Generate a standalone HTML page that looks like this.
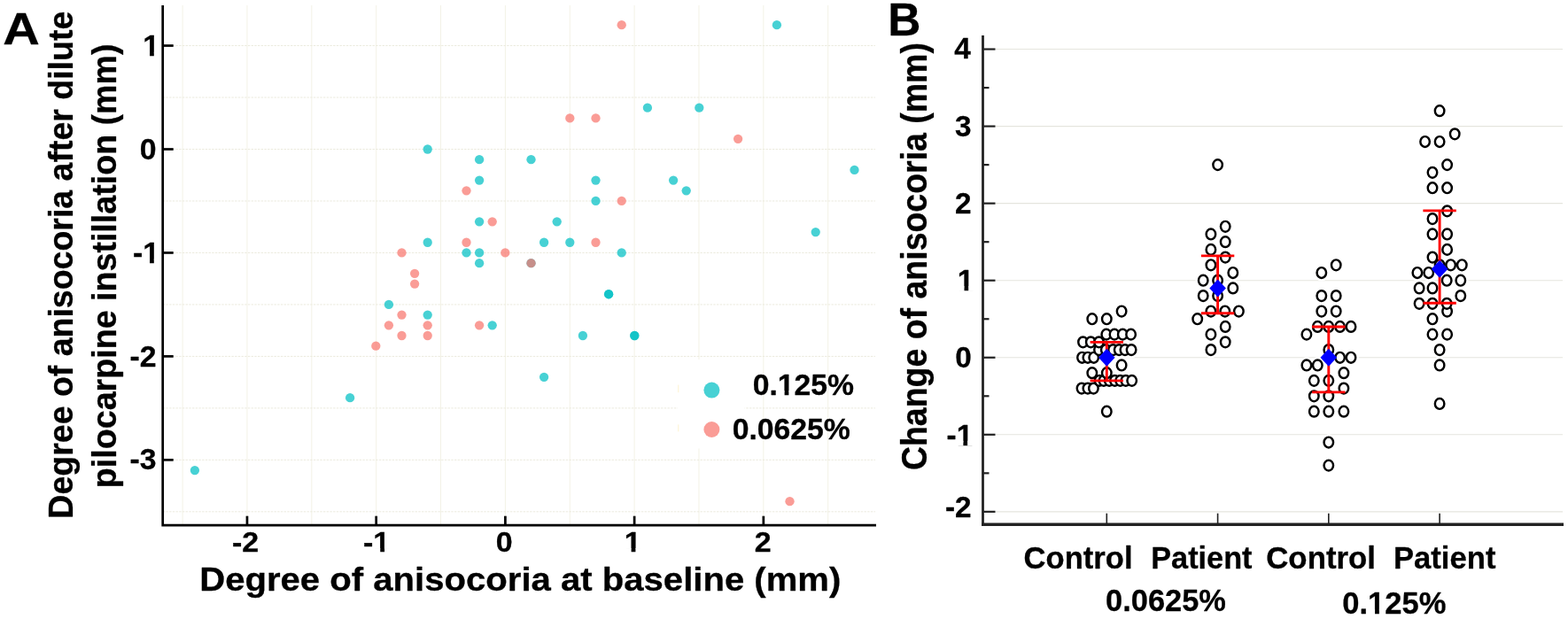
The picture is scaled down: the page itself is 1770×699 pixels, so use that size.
<!DOCTYPE html>
<html lang="en">
<head>
<meta charset="utf-8">
<title>Anisocoria after dilute pilocarpine instillation</title>
<style>
html,body{margin:0;padding:0;background:#fff;}
body{width:1770px;height:699px;overflow:hidden;}
svg{display:block;}
svg text{font-family:'Liberation Sans', Arial, Helvetica, sans-serif;font-weight:bold;}
</style>
</head>
<body>
<svg width="1770" height="699" viewBox="0 0 1770 699">
<rect width="1770" height="699" fill="#fff"/>
<g id="panelA">
<g stroke="#f3f2e6" stroke-width="1" fill="none">
<line x1="206.1" y1="6" x2="206.1" y2="593.2"/>
<line x1="278.96" y1="6" x2="278.96" y2="593.2"/>
<line x1="351.82" y1="6" x2="351.82" y2="593.2"/>
<line x1="424.68" y1="6" x2="424.68" y2="593.2"/>
<line x1="497.54" y1="6" x2="497.54" y2="593.2"/>
<line x1="570.4" y1="6" x2="570.4" y2="593.2"/>
<line x1="643.26" y1="6" x2="643.26" y2="593.2"/>
<line x1="716.12" y1="6" x2="716.12" y2="593.2"/>
<line x1="788.98" y1="6" x2="788.98" y2="593.2"/>
<line x1="861.84" y1="6" x2="861.84" y2="593.2"/>
<line x1="934.7" y1="6" x2="934.7" y2="593.2"/>
</g>
<g stroke="#ebeadd" stroke-width="1" fill="none" stroke-dasharray="2.4 1.3">
<line x1="183.7" y1="577.83" x2="988" y2="577.83"/>
<line x1="183.7" y1="519.35" x2="988" y2="519.35"/>
<line x1="183.7" y1="460.88" x2="988" y2="460.88"/>
<line x1="183.7" y1="402.4" x2="988" y2="402.4"/>
<line x1="183.7" y1="343.93" x2="988" y2="343.93"/>
<line x1="183.7" y1="285.45" x2="988" y2="285.45"/>
<line x1="183.7" y1="226.97" x2="988" y2="226.97"/>
<line x1="183.7" y1="168.5" x2="988" y2="168.5"/>
<line x1="183.7" y1="110.03" x2="988" y2="110.03"/>
<line x1="183.7" y1="51.55" x2="988" y2="51.55"/>
</g>
<rect x="765" y="406" width="75.5" height="100.5" fill="#fff"/>
<rect x="765.3" y="434.6" width="1" height="8.6" fill="#fdf3cf"/>
<rect x="765.3" y="479.4" width="1" height="8" fill="#fdf3cf"/>
<g fill="#00BFC4" fill-opacity="0.72">
<circle cx="482.7" cy="168.5" r="5.15"/>
<circle cx="541.1" cy="180.19" r="5.15"/>
<circle cx="599.5" cy="180.19" r="5.15"/>
<circle cx="541.1" cy="203.59" r="5.15"/>
<circle cx="672.5" cy="203.59" r="5.15"/>
<circle cx="760.1" cy="203.59" r="5.15"/>
<circle cx="774.7" cy="215.28" r="5.15"/>
<circle cx="672.5" cy="226.97" r="5.15"/>
<circle cx="541.1" cy="250.37" r="5.15"/>
<circle cx="628.7" cy="250.37" r="5.15"/>
<circle cx="482.7" cy="273.75" r="5.15"/>
<circle cx="614.1" cy="273.75" r="5.15"/>
<circle cx="643.3" cy="273.75" r="5.15"/>
<circle cx="526.5" cy="285.45" r="5.15"/>
<circle cx="541.1" cy="285.45" r="5.15"/>
<circle cx="701.7" cy="285.45" r="5.15"/>
<circle cx="541.1" cy="297.14" r="5.15"/>
<circle cx="599.5" cy="297.14" r="5.15"/>
<circle cx="438.9" cy="343.93" r="5.15"/>
<circle cx="482.7" cy="355.62" r="5.15"/>
<circle cx="555.7" cy="367.31" r="5.15"/>
<circle cx="657.9" cy="379.01" r="5.15"/>
<circle cx="716.3" cy="379.01" r="5.15"/>
<circle cx="716.3" cy="379.01" r="5.15"/>
<circle cx="687.1" cy="332.23" r="5.15"/>
<circle cx="687.1" cy="332.23" r="5.15"/>
<circle cx="614.1" cy="425.79" r="5.15"/>
<circle cx="395.1" cy="449.18" r="5.15"/>
<circle cx="219.9" cy="531.05" r="5.15"/>
<circle cx="730.9" cy="121.72" r="5.15"/>
<circle cx="789.3" cy="121.72" r="5.15"/>
<circle cx="876.9" cy="28.16" r="5.15"/>
<circle cx="964.5" cy="191.89" r="5.15"/>
<circle cx="920.7" cy="262.06" r="5.15"/>
<circle cx="803.4" cy="440.6" r="9"/>
</g>
<g fill="#F8766D" fill-opacity="0.72">
<circle cx="701.7" cy="28.16" r="5.15"/>
<circle cx="643.3" cy="133.41" r="5.15"/>
<circle cx="672.5" cy="133.41" r="5.15"/>
<circle cx="833.1" cy="156.81" r="5.15"/>
<circle cx="526.5" cy="215.28" r="5.15"/>
<circle cx="701.7" cy="226.97" r="5.15"/>
<circle cx="555.7" cy="250.37" r="5.15"/>
<circle cx="526.5" cy="273.75" r="5.15"/>
<circle cx="672.5" cy="273.75" r="5.15"/>
<circle cx="453.5" cy="285.45" r="5.15"/>
<circle cx="570.3" cy="285.45" r="5.15"/>
<circle cx="599.5" cy="297.14" r="5.15"/>
<circle cx="468.1" cy="308.84" r="5.15"/>
<circle cx="468.1" cy="320.53" r="5.15"/>
<circle cx="453.5" cy="355.62" r="5.15"/>
<circle cx="438.9" cy="367.31" r="5.15"/>
<circle cx="482.7" cy="367.31" r="5.15"/>
<circle cx="541.1" cy="367.31" r="5.15"/>
<circle cx="453.5" cy="379.01" r="5.15"/>
<circle cx="482.7" cy="379.01" r="5.15"/>
<circle cx="424.3" cy="390.7" r="5.15"/>
<circle cx="891.5" cy="566.13" r="5.15"/>
<circle cx="803.4" cy="485" r="9"/>
</g>
<g stroke="#000" stroke-width="2.7" fill="none">
<path d="M183.7 6V593.2H989" stroke-linejoin="miter"/>
<line x1="183.7" y1="51.55" x2="195.7" y2="51.55"/>
<line x1="183.7" y1="168.5" x2="195.7" y2="168.5"/>
<line x1="183.7" y1="285.45" x2="195.7" y2="285.45"/>
<line x1="183.7" y1="402.4" x2="195.7" y2="402.4"/>
<line x1="183.7" y1="519.35" x2="195.7" y2="519.35"/>
<line x1="278.96" y1="593.2" x2="278.96" y2="582.7"/>
<line x1="424.68" y1="593.2" x2="424.68" y2="582.7"/>
<line x1="570.4" y1="593.2" x2="570.4" y2="582.7"/>
<line x1="716.12" y1="593.2" x2="716.12" y2="582.7"/>
<line x1="861.84" y1="593.2" x2="861.84" y2="582.7"/>
</g>
<g transform="translate(161.19 63.45) scale(0.3380 0.3240)"><text stroke="#000" stroke-width="0.91" stroke-linejoin="round" font-size="100">1</text><rect x="3" y="-14" width="20.2" height="17" fill="#fff"/><rect x="37.3" y="-14" width="18.7" height="17" fill="#fff"/></g>
<g transform="translate(157.76 180.1) scale(0.3380 0.3240)"><text stroke="#000" stroke-width="0.91" stroke-linejoin="round" font-size="100">0</text></g>
<g transform="translate(149.94 297.05) scale(0.3380 0.3240)"><text stroke="#000" stroke-width="0.91" stroke-linejoin="round" font-size="100">-1</text><rect x="36.3" y="-14" width="20.2" height="17" fill="#fff"/><rect x="70.6" y="-14" width="18.7" height="17" fill="#fff"/></g>
<g transform="translate(146.47 414) scale(0.3380 0.3240)"><text stroke="#000" stroke-width="0.91" stroke-linejoin="round" font-size="100">-2</text></g>
<g transform="translate(146.57 530.35) scale(0.3380 0.3240)"><text stroke="#000" stroke-width="0.91" stroke-linejoin="round" font-size="100">-3</text></g>
<g transform="translate(262.02 623.4) scale(0.3400 0.3120)"><text stroke="#000" stroke-width="0.92" stroke-linejoin="round" font-size="100">-2</text></g>
<g transform="translate(410.05 623.4) scale(0.3400 0.3120)"><text stroke="#000" stroke-width="0.92" stroke-linejoin="round" font-size="100">-1</text><rect x="36.3" y="-14" width="20.2" height="17" fill="#fff"/><rect x="70.6" y="-14" width="18.7" height="17" fill="#fff"/></g>
<g transform="translate(559.65 623.4) scale(0.3400 0.3120)"><text stroke="#000" stroke-width="0.92" stroke-linejoin="round" font-size="100">0</text></g>
<g transform="translate(704.72 623.4) scale(0.3400 0.3120)"><text stroke="#000" stroke-width="0.92" stroke-linejoin="round" font-size="100">1</text><rect x="3" y="-14" width="20.2" height="17" fill="#fff"/><rect x="37.3" y="-14" width="18.7" height="17" fill="#fff"/></g>
<g transform="translate(851.65 623.4) scale(0.3400 0.3120)"><text stroke="#000" stroke-width="0.92" stroke-linejoin="round" font-size="100">2</text></g>
<text stroke="#000" stroke-width="0.56" stroke-linejoin="round" transform="translate(3.27 50.4) scale(0.5758 0.5043)" font-size="100" fill="#000">A</text>
<text stroke="#000" stroke-width="0.78" stroke-linejoin="round" transform="translate(82.4 585.63) rotate(-90) scale(0.3750 0.3959)" font-size="100" fill="#000">Degree of anisocoria after dilute</text>
<text stroke="#000" stroke-width="0.78" stroke-linejoin="round" transform="translate(131 551.13) rotate(-90) scale(0.3763 0.3973)" font-size="100" fill="#000">pilocarpine instillation (mm)</text>
<text stroke="#000" stroke-width="0.78" stroke-linejoin="round" transform="translate(225.19 667) scale(0.4011 0.3652)" font-size="100" fill="#000">Degree of anisocoria at baseline (mm)</text>
<g transform="translate(849.65 446) scale(0.3373 0.3357)"><text stroke="#000" stroke-width="0.89" stroke-linejoin="round" font-size="100" fill="#000">0.125%</text><rect x="86.4" y="-14" width="20.2" height="17" fill="#fff"/><rect x="120.7" y="-14" width="18.7" height="17" fill="#fff"/></g>
<text stroke="#000" stroke-width="0.90" stroke-linejoin="round" transform="translate(826.65 496) scale(0.3376 0.3286)" font-size="100" fill="#000">0.0625%</text>
</g>
<g id="panelB">
<g stroke="#e5e5de" stroke-width="1.1" fill="none">
<line x1="1123.5" y1="55.55" x2="1764" y2="55.55"/>
<line x1="1123.5" y1="142.6" x2="1764" y2="142.6"/>
<line x1="1123.5" y1="229.65" x2="1764" y2="229.65"/>
<line x1="1123.5" y1="316.7" x2="1764" y2="316.7"/>
<line x1="1123.5" y1="403.75" x2="1764" y2="403.75"/>
<line x1="1123.5" y1="490.8" x2="1764" y2="490.8"/>
<line x1="1123.5" y1="577.85" x2="1764" y2="577.85"/>
</g>
<g fill="#fff" stroke="#fff" stroke-width="7">
<ellipse cx="1249.3" cy="464.69" rx="5.25" ry="5.9"/>
<ellipse cx="1221" cy="438.57" rx="5.25" ry="5.9"/>
<ellipse cx="1227.9" cy="438.57" rx="5.25" ry="5.9"/>
<ellipse cx="1234.4" cy="438.57" rx="5.25" ry="5.9"/>
<ellipse cx="1241" cy="429.87" rx="5.25" ry="5.9"/>
<ellipse cx="1245.9" cy="429.87" rx="5.25" ry="5.9"/>
<ellipse cx="1252.2" cy="429.87" rx="5.25" ry="5.9"/>
<ellipse cx="1258.4" cy="429.87" rx="5.25" ry="5.9"/>
<ellipse cx="1264.6" cy="429.87" rx="5.25" ry="5.9"/>
<ellipse cx="1270.8" cy="429.87" rx="5.25" ry="5.9"/>
<ellipse cx="1277.7" cy="429.87" rx="5.25" ry="5.9"/>
<ellipse cx="1232.8" cy="421.16" rx="5.25" ry="5.9"/>
<ellipse cx="1249.3" cy="421.16" rx="5.25" ry="5.9"/>
<ellipse cx="1266.1" cy="412.45" rx="5.25" ry="5.9"/>
<ellipse cx="1221.5" cy="403.75" rx="5.25" ry="5.9"/>
<ellipse cx="1227.9" cy="403.75" rx="5.25" ry="5.9"/>
<ellipse cx="1234.7" cy="403.75" rx="5.25" ry="5.9"/>
<ellipse cx="1240.5" cy="395.05" rx="5.25" ry="5.9"/>
<ellipse cx="1248.3" cy="395.05" rx="5.25" ry="5.9"/>
<ellipse cx="1256.5" cy="395.05" rx="5.25" ry="5.9"/>
<ellipse cx="1263.2" cy="395.05" rx="5.25" ry="5.9"/>
<ellipse cx="1269.9" cy="395.05" rx="5.25" ry="5.9"/>
<ellipse cx="1277.1" cy="395.05" rx="5.25" ry="5.9"/>
<ellipse cx="1222.5" cy="386.34" rx="5.25" ry="5.9"/>
<ellipse cx="1231.3" cy="386.34" rx="5.25" ry="5.9"/>
<ellipse cx="1240.5" cy="386.34" rx="5.25" ry="5.9"/>
<ellipse cx="1248.8" cy="377.63" rx="5.25" ry="5.9"/>
<ellipse cx="1258" cy="377.63" rx="5.25" ry="5.9"/>
<ellipse cx="1267.3" cy="377.63" rx="5.25" ry="5.9"/>
<ellipse cx="1276.6" cy="377.63" rx="5.25" ry="5.9"/>
<ellipse cx="1232.8" cy="360.23" rx="5.25" ry="5.9"/>
<ellipse cx="1249.3" cy="360.23" rx="5.25" ry="5.9"/>
<ellipse cx="1266.1" cy="351.52" rx="5.25" ry="5.9"/>
<ellipse cx="1366.9" cy="395.05" rx="5.25" ry="5.9"/>
<ellipse cx="1383.2" cy="386.34" rx="5.25" ry="5.9"/>
<ellipse cx="1366.9" cy="377.63" rx="5.25" ry="5.9"/>
<ellipse cx="1383.2" cy="368.93" rx="5.25" ry="5.9"/>
<ellipse cx="1351.7" cy="360.23" rx="5.25" ry="5.9"/>
<ellipse cx="1366.9" cy="351.52" rx="5.25" ry="5.9"/>
<ellipse cx="1382.8" cy="351.52" rx="5.25" ry="5.9"/>
<ellipse cx="1398.4" cy="351.52" rx="5.25" ry="5.9"/>
<ellipse cx="1358.2" cy="334.11" rx="5.25" ry="5.9"/>
<ellipse cx="1374.6" cy="334.11" rx="5.25" ry="5.9"/>
<ellipse cx="1391.8" cy="325.4" rx="5.25" ry="5.9"/>
<ellipse cx="1358.2" cy="316.7" rx="5.25" ry="5.9"/>
<ellipse cx="1374.6" cy="316.7" rx="5.25" ry="5.9"/>
<ellipse cx="1391.8" cy="308" rx="5.25" ry="5.9"/>
<ellipse cx="1366.9" cy="299.29" rx="5.25" ry="5.9"/>
<ellipse cx="1383.2" cy="290.58" rx="5.25" ry="5.9"/>
<ellipse cx="1366.9" cy="281.88" rx="5.25" ry="5.9"/>
<ellipse cx="1383.2" cy="273.18" rx="5.25" ry="5.9"/>
<ellipse cx="1366.9" cy="264.47" rx="5.25" ry="5.9"/>
<ellipse cx="1383.2" cy="255.77" rx="5.25" ry="5.9"/>
<ellipse cx="1374.6" cy="186.12" rx="5.25" ry="5.9"/>
<ellipse cx="1499.8" cy="525.62" rx="5.25" ry="5.9"/>
<ellipse cx="1499.8" cy="499.5" rx="5.25" ry="5.9"/>
<ellipse cx="1483.3" cy="464.69" rx="5.25" ry="5.9"/>
<ellipse cx="1499.8" cy="464.69" rx="5.25" ry="5.9"/>
<ellipse cx="1516.9" cy="464.69" rx="5.25" ry="5.9"/>
<ellipse cx="1483.3" cy="447.27" rx="5.25" ry="5.9"/>
<ellipse cx="1499.8" cy="447.27" rx="5.25" ry="5.9"/>
<ellipse cx="1516.9" cy="438.57" rx="5.25" ry="5.9"/>
<ellipse cx="1483.3" cy="429.87" rx="5.25" ry="5.9"/>
<ellipse cx="1499.8" cy="429.87" rx="5.25" ry="5.9"/>
<ellipse cx="1516.9" cy="421.16" rx="5.25" ry="5.9"/>
<ellipse cx="1474.9" cy="412.45" rx="5.25" ry="5.9"/>
<ellipse cx="1487.3" cy="412.45" rx="5.25" ry="5.9"/>
<ellipse cx="1512.6" cy="403.75" rx="5.25" ry="5.9"/>
<ellipse cx="1525" cy="403.75" rx="5.25" ry="5.9"/>
<ellipse cx="1499.8" cy="395.05" rx="5.25" ry="5.9"/>
<ellipse cx="1474.9" cy="377.63" rx="5.25" ry="5.9"/>
<ellipse cx="1487.3" cy="368.93" rx="5.25" ry="5.9"/>
<ellipse cx="1499.8" cy="368.93" rx="5.25" ry="5.9"/>
<ellipse cx="1512.6" cy="368.93" rx="5.25" ry="5.9"/>
<ellipse cx="1525" cy="368.93" rx="5.25" ry="5.9"/>
<ellipse cx="1491.8" cy="351.52" rx="5.25" ry="5.9"/>
<ellipse cx="1508.2" cy="351.52" rx="5.25" ry="5.9"/>
<ellipse cx="1491.8" cy="334.11" rx="5.25" ry="5.9"/>
<ellipse cx="1508.2" cy="334.11" rx="5.25" ry="5.9"/>
<ellipse cx="1491.8" cy="308" rx="5.25" ry="5.9"/>
<ellipse cx="1508.2" cy="299.29" rx="5.25" ry="5.9"/>
<ellipse cx="1625.1" cy="455.98" rx="5.25" ry="5.9"/>
<ellipse cx="1625.1" cy="412.45" rx="5.25" ry="5.9"/>
<ellipse cx="1625.1" cy="395.05" rx="5.25" ry="5.9"/>
<ellipse cx="1617" cy="377.63" rx="5.25" ry="5.9"/>
<ellipse cx="1633.6" cy="377.63" rx="5.25" ry="5.9"/>
<ellipse cx="1617" cy="360.23" rx="5.25" ry="5.9"/>
<ellipse cx="1633.6" cy="351.52" rx="5.25" ry="5.9"/>
<ellipse cx="1602.1" cy="342.81" rx="5.25" ry="5.9"/>
<ellipse cx="1617" cy="342.81" rx="5.25" ry="5.9"/>
<ellipse cx="1633.2" cy="342.81" rx="5.25" ry="5.9"/>
<ellipse cx="1648.8" cy="334.11" rx="5.25" ry="5.9"/>
<ellipse cx="1602.1" cy="325.4" rx="5.25" ry="5.9"/>
<ellipse cx="1617" cy="325.4" rx="5.25" ry="5.9"/>
<ellipse cx="1633.2" cy="316.7" rx="5.25" ry="5.9"/>
<ellipse cx="1648.8" cy="316.7" rx="5.25" ry="5.9"/>
<ellipse cx="1599.9" cy="308" rx="5.25" ry="5.9"/>
<ellipse cx="1612.7" cy="308" rx="5.25" ry="5.9"/>
<ellipse cx="1625.1" cy="299.29" rx="5.25" ry="5.9"/>
<ellipse cx="1637.6" cy="299.29" rx="5.25" ry="5.9"/>
<ellipse cx="1650.3" cy="299.29" rx="5.25" ry="5.9"/>
<ellipse cx="1617" cy="290.58" rx="5.25" ry="5.9"/>
<ellipse cx="1633.6" cy="281.88" rx="5.25" ry="5.9"/>
<ellipse cx="1617" cy="264.47" rx="5.25" ry="5.9"/>
<ellipse cx="1633.6" cy="264.47" rx="5.25" ry="5.9"/>
<ellipse cx="1617" cy="247.06" rx="5.25" ry="5.9"/>
<ellipse cx="1633.6" cy="238.36" rx="5.25" ry="5.9"/>
<ellipse cx="1617" cy="212.24" rx="5.25" ry="5.9"/>
<ellipse cx="1633.6" cy="212.24" rx="5.25" ry="5.9"/>
<ellipse cx="1617" cy="194.83" rx="5.25" ry="5.9"/>
<ellipse cx="1633.6" cy="186.12" rx="5.25" ry="5.9"/>
<ellipse cx="1608.6" cy="160.01" rx="5.25" ry="5.9"/>
<ellipse cx="1625.1" cy="160.01" rx="5.25" ry="5.9"/>
<ellipse cx="1642.2" cy="151.31" rx="5.25" ry="5.9"/>
<ellipse cx="1625.1" cy="125.19" rx="5.25" ry="5.9"/>
<path d="M1240 403.75L1249.3 393.75L1258.6 403.75L1249.3 413.75Z" stroke-width="5"/>
<path d="M1365.3 325.4L1374.6 315.4L1383.9 325.4L1374.6 335.4Z" stroke-width="5"/>
<path d="M1490.5 403.75L1499.8 393.75L1509.1 403.75L1499.8 413.75Z" stroke-width="5"/>
<path d="M1615.8 303.64L1625.1 293.64L1634.4 303.64L1625.1 313.64Z" stroke-width="5"/>
</g>
<g fill="#fff" stroke="#000" stroke-width="2.45">
<ellipse cx="1249.3" cy="464.69" rx="5.25" ry="5.9"/>
<ellipse cx="1221" cy="438.57" rx="5.25" ry="5.9"/>
<ellipse cx="1227.9" cy="438.57" rx="5.25" ry="5.9"/>
<ellipse cx="1234.4" cy="438.57" rx="5.25" ry="5.9"/>
<ellipse cx="1241" cy="429.87" rx="5.25" ry="5.9"/>
<ellipse cx="1245.9" cy="429.87" rx="5.25" ry="5.9"/>
<ellipse cx="1252.2" cy="429.87" rx="5.25" ry="5.9"/>
<ellipse cx="1258.4" cy="429.87" rx="5.25" ry="5.9"/>
<ellipse cx="1264.6" cy="429.87" rx="5.25" ry="5.9"/>
<ellipse cx="1270.8" cy="429.87" rx="5.25" ry="5.9"/>
<ellipse cx="1277.7" cy="429.87" rx="5.25" ry="5.9"/>
<ellipse cx="1232.8" cy="421.16" rx="5.25" ry="5.9"/>
<ellipse cx="1249.3" cy="421.16" rx="5.25" ry="5.9"/>
<ellipse cx="1266.1" cy="412.45" rx="5.25" ry="5.9"/>
<ellipse cx="1221.5" cy="403.75" rx="5.25" ry="5.9"/>
<ellipse cx="1227.9" cy="403.75" rx="5.25" ry="5.9"/>
<ellipse cx="1234.7" cy="403.75" rx="5.25" ry="5.9"/>
<ellipse cx="1240.5" cy="395.05" rx="5.25" ry="5.9"/>
<ellipse cx="1248.3" cy="395.05" rx="5.25" ry="5.9"/>
<ellipse cx="1256.5" cy="395.05" rx="5.25" ry="5.9"/>
<ellipse cx="1263.2" cy="395.05" rx="5.25" ry="5.9"/>
<ellipse cx="1269.9" cy="395.05" rx="5.25" ry="5.9"/>
<ellipse cx="1277.1" cy="395.05" rx="5.25" ry="5.9"/>
<ellipse cx="1222.5" cy="386.34" rx="5.25" ry="5.9"/>
<ellipse cx="1231.3" cy="386.34" rx="5.25" ry="5.9"/>
<ellipse cx="1240.5" cy="386.34" rx="5.25" ry="5.9"/>
<ellipse cx="1248.8" cy="377.63" rx="5.25" ry="5.9"/>
<ellipse cx="1258" cy="377.63" rx="5.25" ry="5.9"/>
<ellipse cx="1267.3" cy="377.63" rx="5.25" ry="5.9"/>
<ellipse cx="1276.6" cy="377.63" rx="5.25" ry="5.9"/>
<ellipse cx="1232.8" cy="360.23" rx="5.25" ry="5.9"/>
<ellipse cx="1249.3" cy="360.23" rx="5.25" ry="5.9"/>
<ellipse cx="1266.1" cy="351.52" rx="5.25" ry="5.9"/>
<ellipse cx="1366.9" cy="395.05" rx="5.25" ry="5.9"/>
<ellipse cx="1383.2" cy="386.34" rx="5.25" ry="5.9"/>
<ellipse cx="1366.9" cy="377.63" rx="5.25" ry="5.9"/>
<ellipse cx="1383.2" cy="368.93" rx="5.25" ry="5.9"/>
<ellipse cx="1351.7" cy="360.23" rx="5.25" ry="5.9"/>
<ellipse cx="1366.9" cy="351.52" rx="5.25" ry="5.9"/>
<ellipse cx="1382.8" cy="351.52" rx="5.25" ry="5.9"/>
<ellipse cx="1398.4" cy="351.52" rx="5.25" ry="5.9"/>
<ellipse cx="1358.2" cy="334.11" rx="5.25" ry="5.9"/>
<ellipse cx="1374.6" cy="334.11" rx="5.25" ry="5.9"/>
<ellipse cx="1391.8" cy="325.4" rx="5.25" ry="5.9"/>
<ellipse cx="1358.2" cy="316.7" rx="5.25" ry="5.9"/>
<ellipse cx="1374.6" cy="316.7" rx="5.25" ry="5.9"/>
<ellipse cx="1391.8" cy="308" rx="5.25" ry="5.9"/>
<ellipse cx="1366.9" cy="299.29" rx="5.25" ry="5.9"/>
<ellipse cx="1383.2" cy="290.58" rx="5.25" ry="5.9"/>
<ellipse cx="1366.9" cy="281.88" rx="5.25" ry="5.9"/>
<ellipse cx="1383.2" cy="273.18" rx="5.25" ry="5.9"/>
<ellipse cx="1366.9" cy="264.47" rx="5.25" ry="5.9"/>
<ellipse cx="1383.2" cy="255.77" rx="5.25" ry="5.9"/>
<ellipse cx="1374.6" cy="186.12" rx="5.25" ry="5.9"/>
<ellipse cx="1499.8" cy="525.62" rx="5.25" ry="5.9"/>
<ellipse cx="1499.8" cy="499.5" rx="5.25" ry="5.9"/>
<ellipse cx="1483.3" cy="464.69" rx="5.25" ry="5.9"/>
<ellipse cx="1499.8" cy="464.69" rx="5.25" ry="5.9"/>
<ellipse cx="1516.9" cy="464.69" rx="5.25" ry="5.9"/>
<ellipse cx="1483.3" cy="447.27" rx="5.25" ry="5.9"/>
<ellipse cx="1499.8" cy="447.27" rx="5.25" ry="5.9"/>
<ellipse cx="1516.9" cy="438.57" rx="5.25" ry="5.9"/>
<ellipse cx="1483.3" cy="429.87" rx="5.25" ry="5.9"/>
<ellipse cx="1499.8" cy="429.87" rx="5.25" ry="5.9"/>
<ellipse cx="1516.9" cy="421.16" rx="5.25" ry="5.9"/>
<ellipse cx="1474.9" cy="412.45" rx="5.25" ry="5.9"/>
<ellipse cx="1487.3" cy="412.45" rx="5.25" ry="5.9"/>
<ellipse cx="1512.6" cy="403.75" rx="5.25" ry="5.9"/>
<ellipse cx="1525" cy="403.75" rx="5.25" ry="5.9"/>
<ellipse cx="1499.8" cy="395.05" rx="5.25" ry="5.9"/>
<ellipse cx="1474.9" cy="377.63" rx="5.25" ry="5.9"/>
<ellipse cx="1487.3" cy="368.93" rx="5.25" ry="5.9"/>
<ellipse cx="1499.8" cy="368.93" rx="5.25" ry="5.9"/>
<ellipse cx="1512.6" cy="368.93" rx="5.25" ry="5.9"/>
<ellipse cx="1525" cy="368.93" rx="5.25" ry="5.9"/>
<ellipse cx="1491.8" cy="351.52" rx="5.25" ry="5.9"/>
<ellipse cx="1508.2" cy="351.52" rx="5.25" ry="5.9"/>
<ellipse cx="1491.8" cy="334.11" rx="5.25" ry="5.9"/>
<ellipse cx="1508.2" cy="334.11" rx="5.25" ry="5.9"/>
<ellipse cx="1491.8" cy="308" rx="5.25" ry="5.9"/>
<ellipse cx="1508.2" cy="299.29" rx="5.25" ry="5.9"/>
<ellipse cx="1625.1" cy="455.98" rx="5.25" ry="5.9"/>
<ellipse cx="1625.1" cy="412.45" rx="5.25" ry="5.9"/>
<ellipse cx="1625.1" cy="395.05" rx="5.25" ry="5.9"/>
<ellipse cx="1617" cy="377.63" rx="5.25" ry="5.9"/>
<ellipse cx="1633.6" cy="377.63" rx="5.25" ry="5.9"/>
<ellipse cx="1617" cy="360.23" rx="5.25" ry="5.9"/>
<ellipse cx="1633.6" cy="351.52" rx="5.25" ry="5.9"/>
<ellipse cx="1602.1" cy="342.81" rx="5.25" ry="5.9"/>
<ellipse cx="1617" cy="342.81" rx="5.25" ry="5.9"/>
<ellipse cx="1633.2" cy="342.81" rx="5.25" ry="5.9"/>
<ellipse cx="1648.8" cy="334.11" rx="5.25" ry="5.9"/>
<ellipse cx="1602.1" cy="325.4" rx="5.25" ry="5.9"/>
<ellipse cx="1617" cy="325.4" rx="5.25" ry="5.9"/>
<ellipse cx="1633.2" cy="316.7" rx="5.25" ry="5.9"/>
<ellipse cx="1648.8" cy="316.7" rx="5.25" ry="5.9"/>
<ellipse cx="1599.9" cy="308" rx="5.25" ry="5.9"/>
<ellipse cx="1612.7" cy="308" rx="5.25" ry="5.9"/>
<ellipse cx="1625.1" cy="299.29" rx="5.25" ry="5.9"/>
<ellipse cx="1637.6" cy="299.29" rx="5.25" ry="5.9"/>
<ellipse cx="1650.3" cy="299.29" rx="5.25" ry="5.9"/>
<ellipse cx="1617" cy="290.58" rx="5.25" ry="5.9"/>
<ellipse cx="1633.6" cy="281.88" rx="5.25" ry="5.9"/>
<ellipse cx="1617" cy="264.47" rx="5.25" ry="5.9"/>
<ellipse cx="1633.6" cy="264.47" rx="5.25" ry="5.9"/>
<ellipse cx="1617" cy="247.06" rx="5.25" ry="5.9"/>
<ellipse cx="1633.6" cy="238.36" rx="5.25" ry="5.9"/>
<ellipse cx="1617" cy="212.24" rx="5.25" ry="5.9"/>
<ellipse cx="1633.6" cy="212.24" rx="5.25" ry="5.9"/>
<ellipse cx="1617" cy="194.83" rx="5.25" ry="5.9"/>
<ellipse cx="1633.6" cy="186.12" rx="5.25" ry="5.9"/>
<ellipse cx="1608.6" cy="160.01" rx="5.25" ry="5.9"/>
<ellipse cx="1625.1" cy="160.01" rx="5.25" ry="5.9"/>
<ellipse cx="1642.2" cy="151.31" rx="5.25" ry="5.9"/>
<ellipse cx="1625.1" cy="125.19" rx="5.25" ry="5.9"/>
</g>
<g stroke="#ff0000" stroke-width="2.9" fill="none">
<path d="M1230.6 386.34H1268M1230.6 429.87H1268M1249.3 386.34V429.87"/>
<path d="M1355.9 288.84H1393.3M1355.9 353.7H1393.3M1374.6 288.84V353.7"/>
<path d="M1481.1 368.93H1518.5M1481.1 442.92H1518.5M1499.8 368.93V442.92"/>
<path d="M1606.4 237.92H1643.8M1606.4 342.29H1643.8M1625.1 237.92V342.29"/>
</g>
<g fill="#0000ff">
<path d="M1240 403.75L1249.3 393.75L1258.6 403.75L1249.3 413.75Z"/>
<path d="M1365.3 325.4L1374.6 315.4L1383.9 325.4L1374.6 335.4Z"/>
<path d="M1490.5 403.75L1499.8 393.75L1509.1 403.75L1499.8 413.75Z"/>
<path d="M1615.8 303.64L1625.1 293.64L1634.4 303.64L1625.1 313.64Z"/>
</g>
<g stroke="#222" fill="none">
<line x1="1109.5" y1="40" x2="1109.5" y2="594" stroke-width="2.8"/>
<line x1="1108.1" y1="592.2" x2="1765" y2="592.2" stroke-width="3.6"/>
<line x1="1109.5" y1="577.85" x2="1123.5" y2="577.85" stroke-width="2.2"/>
<line x1="1109.5" y1="534.33" x2="1116.5" y2="534.33" stroke-width="2.2"/>
<line x1="1109.5" y1="490.8" x2="1123.5" y2="490.8" stroke-width="2.2"/>
<line x1="1109.5" y1="447.27" x2="1116.5" y2="447.27" stroke-width="2.2"/>
<line x1="1109.5" y1="403.75" x2="1123.5" y2="403.75" stroke-width="2.2"/>
<line x1="1109.5" y1="360.23" x2="1116.5" y2="360.23" stroke-width="2.2"/>
<line x1="1109.5" y1="316.7" x2="1123.5" y2="316.7" stroke-width="2.2"/>
<line x1="1109.5" y1="273.18" x2="1116.5" y2="273.18" stroke-width="2.2"/>
<line x1="1109.5" y1="229.65" x2="1123.5" y2="229.65" stroke-width="2.2"/>
<line x1="1109.5" y1="186.12" x2="1116.5" y2="186.12" stroke-width="2.2"/>
<line x1="1109.5" y1="142.6" x2="1123.5" y2="142.6" stroke-width="2.2"/>
<line x1="1109.5" y1="99.07" x2="1116.5" y2="99.07" stroke-width="2.2"/>
<line x1="1109.5" y1="55.55" x2="1123.5" y2="55.55" stroke-width="2.2"/>
<line x1="1249.3" y1="592.2" x2="1249.3" y2="579.7" stroke-width="1.6"/>
<line x1="1374.6" y1="592.2" x2="1374.6" y2="579.7" stroke-width="1.6"/>
<line x1="1499.8" y1="592.2" x2="1499.8" y2="579.7" stroke-width="1.6"/>
<line x1="1625.1" y1="592.2" x2="1625.1" y2="579.7" stroke-width="1.6"/>
</g>
<g transform="translate(1077.28 65.65) scale(0.3330 0.3330)"><text stroke="#000" stroke-width="0.90" stroke-linejoin="round" font-size="100">4</text></g>
<g transform="translate(1077.98 153.8) scale(0.3330 0.3330)"><text stroke="#000" stroke-width="0.90" stroke-linejoin="round" font-size="100">3</text></g>
<g transform="translate(1077.98 240.85) scale(0.3330 0.3330)"><text stroke="#000" stroke-width="0.90" stroke-linejoin="round" font-size="100">2</text></g>
<g transform="translate(1080.78 327.9) scale(0.3330 0.3330)"><text stroke="#000" stroke-width="0.90" stroke-linejoin="round" font-size="100">1</text><rect x="3" y="-14" width="20.2" height="17" fill="#fff"/><rect x="37.3" y="-14" width="18.7" height="17" fill="#fff"/></g>
<g transform="translate(1078.32 414.95) scale(0.3330 0.3330)"><text stroke="#000" stroke-width="0.90" stroke-linejoin="round" font-size="100">0</text></g>
<g transform="translate(1068.59 502.5) scale(0.3330 0.3330)"><text stroke="#000" stroke-width="0.90" stroke-linejoin="round" font-size="100">-1</text><rect x="36.3" y="-14" width="20.2" height="17" fill="#fff"/><rect x="70.6" y="-14" width="18.7" height="17" fill="#fff"/></g>
<g transform="translate(1066.9 583.75) scale(0.3330 0.3330)"><text stroke="#000" stroke-width="0.90" stroke-linejoin="round" font-size="100">-2</text></g>
<text stroke="#000" stroke-width="0.58" stroke-linejoin="round" transform="translate(1002.3 39.8) scale(0.5148 0.5130)" font-size="100" fill="#000">B</text>
<text stroke="#000" stroke-width="0.77" stroke-linejoin="round" transform="translate(1046.2 531.1) rotate(-90) scale(0.3748 0.4000)" font-size="100" fill="#000">Change of anisocoria (mm)</text>
<text stroke="#000" stroke-width="0.86" stroke-linejoin="round" transform="translate(1155.62 641.7) scale(0.3459 0.3522)" font-size="100" fill="#000">Control</text>
<text stroke="#000" stroke-width="0.86" stroke-linejoin="round" transform="translate(1299.2 641.7) scale(0.3428 0.3522)" font-size="100" fill="#000">Patient</text>
<text stroke="#000" stroke-width="0.86" stroke-linejoin="round" transform="translate(1429.21 641.7) scale(0.3483 0.3522)" font-size="100" fill="#000">Control</text>
<text stroke="#000" stroke-width="0.86" stroke-linejoin="round" transform="translate(1572.97 641.7) scale(0.3465 0.3522)" font-size="100" fill="#000">Patient</text>
<text stroke="#000" stroke-width="0.86" stroke-linejoin="round" transform="translate(1248.12 690.2) scale(0.3441 0.3514)" font-size="100" fill="#000">0.0625%</text>
<g transform="translate(1515.22 693.3) scale(0.3455 0.3514)"><text stroke="#000" stroke-width="0.86" stroke-linejoin="round" font-size="100" fill="#000">0.125%</text><rect x="86.4" y="-14" width="20.2" height="17" fill="#fff"/><rect x="120.7" y="-14" width="18.7" height="17" fill="#fff"/></g>
</g>
</svg>
</body>
</html>
